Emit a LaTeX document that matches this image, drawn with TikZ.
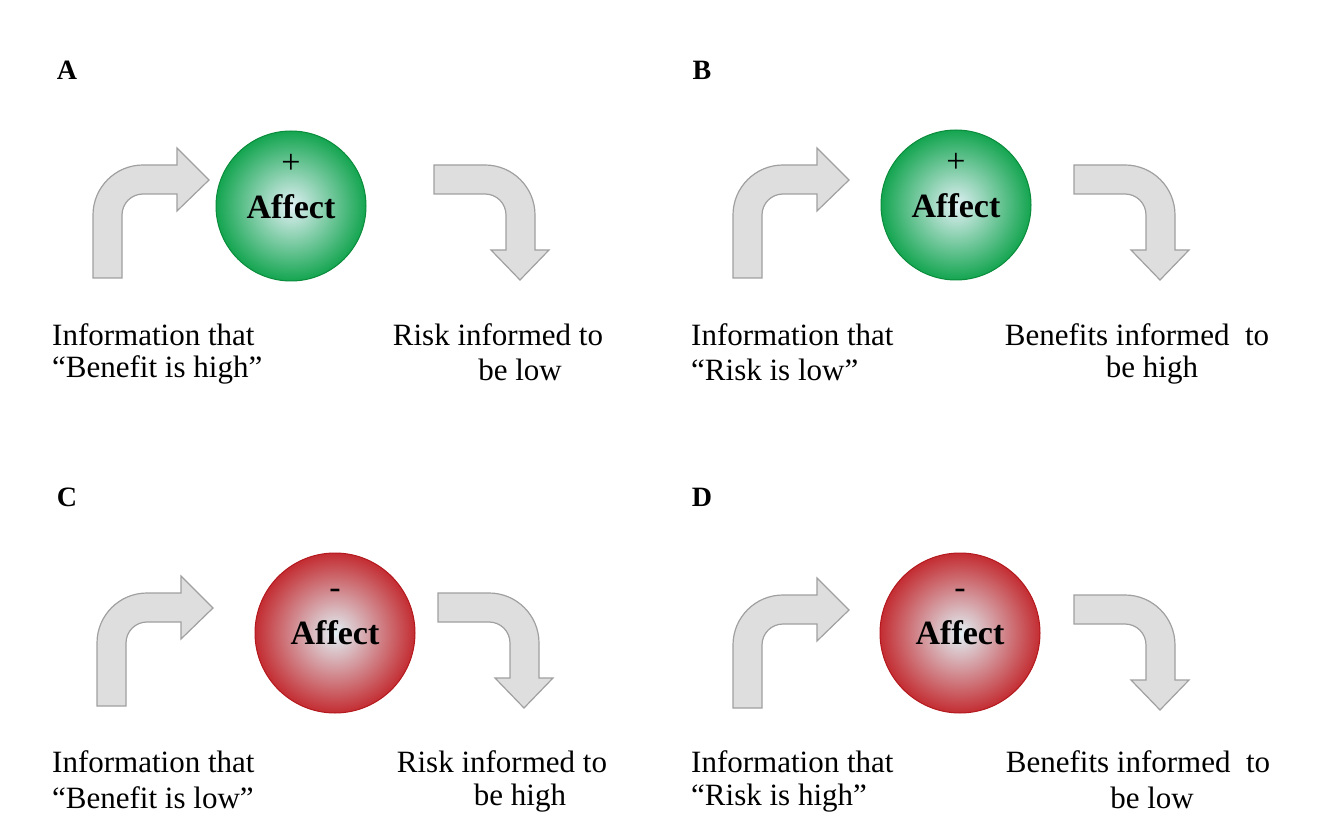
\documentclass[tikz,border=0pt]{standalone}
\usepackage{fontspec}
\setmainfont{Liberation Serif}
\definecolor{agreen}{RGB}{20,165,80}
\definecolor{agreenD}{RGB}{10,140,60}
\definecolor{ared}{RGB}{195,45,50}
\definecolor{aredD}{RGB}{180,25,30}
\definecolor{acenter}{RGB}{225,240,245}
\definecolor{arrfill}{RGB}{222,222,222}
\definecolor{arrdraw}{RGB}{160,160,160}
\tikzset{
  arrowshape/.style={fill=arrfill,draw=arrdraw,line width=1.2pt,line join=miter},
  txt/.style={font=\fontsize{31}{34}\selectfont,inner sep=0pt},
  lbl/.style={font=\fontsize{28}{30}\selectfont\bfseries,inner sep=0pt},
  aff/.style={font=\fontsize{34}{38}\selectfont\bfseries,inner sep=0pt},
  sgn/.style={font=\fontsize{34}{36}\selectfont,inner sep=0pt}
}
\newcommand\leftarr{%
  \draw[arrowshape] (93,278) -- (93,215) arc[start angle=180,end angle=270,radius=50] -- (177,165) -- (177,148) -- (209,180) -- (177,211) -- (177,194) -- (143,194) arc[start angle=270,end angle=180,radius=21] -- (122,278) -- cycle;}
\newcommand\rightarr{%
  \draw[arrowshape] (434,165) -- (485,165) arc[start angle=270,end angle=360,radius=50] -- (535,250) -- (549,250) -- (520,280) -- (491,250) -- (506,250) -- (506,215) arc[start angle=0,end angle=-90,radius=21] -- (434,194) -- cycle;}
\begin{document}
\begin{tikzpicture}[x=1pt,y=-1pt]
\useasboundingbox (0,0) rectangle (1318,834);
\fill[white] (0,0) rectangle (1318,834);
% A
\node[lbl] (la) at (67,70) {A};
\leftarr \rightarr
\node[circle,minimum size=150pt,draw=agreenD,line width=1pt,inner color=acenter,outer color=agreen] (ca) at (291,206) {};
\node[sgn] (pa) at (291,164) {+};
\node[aff] (aa) at (291,207) {Affect};
\node[txt,anchor=west] (ia1) at (52,335) {Information that};
\node[txt,anchor=west] (ia2) at (52,370) {“Benefit is high”};
\node[txt] (ra1) at (498,335) {Risk informed to};
\node[txt] (ra2) at (520,370) {be low};
% B
\node[lbl] (lb) at (702,70) {B};
\begin{scope}[shift={(640,0)}]\leftarr \rightarr\end{scope}
\node[circle,minimum size=150pt,draw=agreenD,line width=1pt,inner color=acenter,outer color=agreen] (cb) at (956,205) {};
\node[sgn] (pb) at (956,163) {+};
\node[aff] (ab) at (956,206) {Affect};
\node[txt,anchor=west] (ib1) at (691,335) {Information that};
\node[txt,anchor=west] (ib2) at (691,370) {“Risk is low”};
\node[txt] (rb1) at (1137,335) {Benefits informed\ \ to};
\node[txt] (rb2) at (1152,370) {be high};
% C
\node[lbl] (lc) at (67,497) {C};
\begin{scope}[shift={(4,428)}]\leftarr \rightarr\end{scope}
\node[circle,minimum size=160pt,draw=aredD,line width=1pt,inner color=acenter,outer color=ared] (cc) at (335,633) {};
\node[sgn] (mc) at (335,594) {-};
\node[aff] (ac) at (335,633) {Affect};
\node[txt,anchor=west] (ic1) at (52,762) {Information that};
\node[txt,anchor=west] (ic2) at (52,798) {“Benefit is low”};
\node[txt] (rc1) at (502,762) {Risk informed to};
\node[txt] (rc2) at (520,798) {be high};
% D
\node[lbl] (ld) at (702,497) {D};
\begin{scope}[shift={(640,430)}]\leftarr \rightarr\end{scope}
\node[circle,minimum size=160pt,draw=aredD,line width=1pt,inner color=acenter,outer color=ared] (cd) at (960,633) {};
\node[sgn] (md) at (960,594) {-};
\node[aff] (ad) at (960,633) {Affect};
\node[txt,anchor=west] (id1) at (691,762) {Information that};
\node[txt,anchor=west] (id2) at (691,798) {“Risk is high”};
\node[txt] (rd1) at (1138,762) {Benefits informed\ \ to};
\node[txt] (rd2) at (1152,798) {be low};
\end{tikzpicture}
\end{document}
